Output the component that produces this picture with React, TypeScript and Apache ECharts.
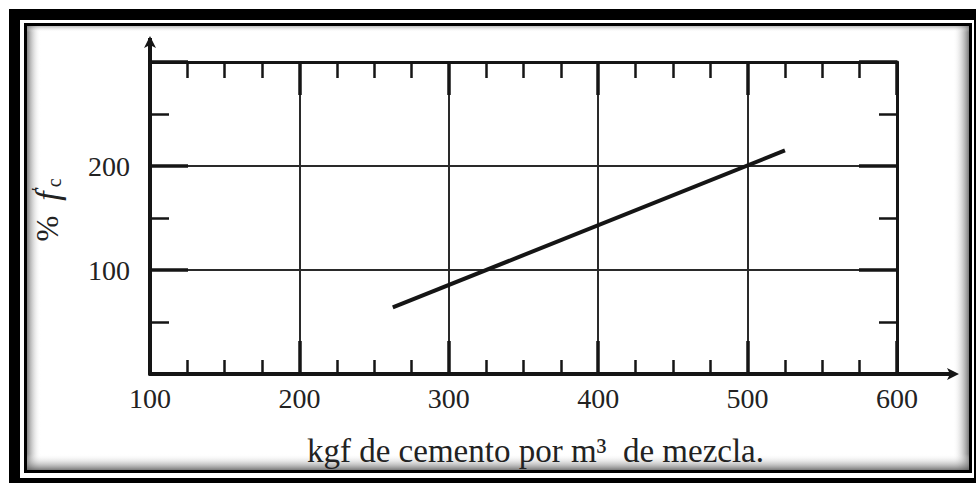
import React, { useEffect, useRef } from "react";
import * as echarts from "echarts";

const xTickValues = [100, 200, 300, 400, 500, 600];
const yTickValues = [100, 200];
const lineX = [262.5, 525];
const lineY = [64, 215];
const xAxisTitle = "kgf de cemento por m³  de mezcla.";

const FONT = "'Liberation Serif', 'DejaVu Serif', serif";
const INK = "#151515";

export default function App() {
  const ref = useRef<HTMLDivElement>(null);
  useEffect(() => {
    if (!ref.current) return;
    const chart = echarts.init(ref.current, undefined, { renderer: "svg" });
    const lineData = lineX.map((x, i) => [x, lineY[i]]);
    const gl = { left: 150, right: 79, top: 62, bottom: 109 };
    const W = 976;
    const H = 483;
    const axisRight = W - gl.right;
    const axisBottom = H - gl.bottom;

    const commonX = {
      type: "value" as const,
      min: 100,
      max: 600,
      interval: 100,
    };
    const commonY = {
      type: "value" as const,
      min: 0,
      max: 300,
      interval: 100,
    };

    chart.setOption({
      animation: false,
      backgroundColor: "#ffffff",
      grid: { ...gl, show: false },
      xAxis: [
        {
          ...commonX,
          position: "bottom",
          axisLine: {
            show: true,
            onZero: false,
            lineStyle: { color: INK, width: 4 },
            symbol: ["none", "arrow"],
            symbolSize: [9, 12],
            symbolOffset: [0, 62],
          },
          axisTick: { show: true, inside: true, length: 33, lineStyle: { color: INK, width: 3.5 } },
          minorTick: { show: true, splitNumber: 4, length: 14, lineStyle: { color: INK, width: 2.5 } },
          splitLine: { show: true, lineStyle: { color: "#2a2a2a", width: 2 } },
          axisLabel: {
            show: true,
            margin: 10,
            fontFamily: FONT,
            fontSize: 28,
            color: "#222",
            formatter: (v: number) => (xTickValues.includes(v) ? String(v) : ""),
          },
          name: xAxisTitle,
          nameLocation: "middle",
          nameGap: 60,
          nameTextStyle: {
            fontFamily: FONT,
            fontSize: 33,
            color: "#222",
            padding: [0, 0, 0, 24],
          },
        },
        {
          ...commonX,
          position: "top",
          axisLine: { show: true, onZero: false, lineStyle: { color: INK, width: 3 } },
          axisTick: { show: true, inside: true, length: 33, lineStyle: { color: INK, width: 3.5 } },
          minorTick: { show: true, splitNumber: 4, length: 16, lineStyle: { color: INK, width: 2.5 } },
          splitLine: { show: false },
          axisLabel: { show: false },
        },
      ],
      yAxis: [
        {
          ...commonY,
          position: "left",
          axisLine: {
            show: true,
            onZero: false,
            lineStyle: { color: INK, width: 4 },
            symbol: ["none", "arrow"],
            symbolSize: [9, 12],
            symbolOffset: [0, 26],
          },
          axisTick: { show: true, inside: true, length: 38, lineStyle: { color: INK, width: 3.5 } },
          minorTick: { show: true, splitNumber: 2, length: 19, lineStyle: { color: INK, width: 2.5 } },
          splitLine: { show: true, lineStyle: { color: "#2a2a2a", width: 2 } },
          axisLabel: {
            show: true,
            margin: 20,
            fontFamily: FONT,
            fontSize: 28,
            color: "#222",
            formatter: (v: number) => (yTickValues.includes(v) ? String(v) : ""),
          },
          name: "{p|%}  {f|f}{q|′}{c|c}",
          nameLocation: "middle",
          nameRotate: 90,
          nameGap: 86,
          nameTextStyle: {
            fontFamily: FONT,
            fontSize: 30,
            color: "#222",
            padding: [0, 0, 0, 16],
            rich: {
              p: { fontFamily: FONT, fontSize: 31, color: "#222" },
              f: { fontFamily: FONT, fontSize: 34, fontStyle: "italic", color: "#222" },
              q: { fontFamily: FONT, fontSize: 18, color: "#222", verticalAlign: "top" },
              c: { fontFamily: FONT, fontSize: 20, color: "#222", verticalAlign: "bottom" },
            },
          },
        },
        {
          ...commonY,
          position: "right",
          axisLine: { show: true, onZero: false, lineStyle: { color: INK, width: 3 } },
          axisTick: { show: true, inside: true, length: 38, lineStyle: { color: INK, width: 3.5 } },
          minorTick: { show: true, splitNumber: 2, length: 18, lineStyle: { color: INK, width: 2.5 } },
          splitLine: { show: false },
          axisLabel: { show: false },
        },
      ],
      series: [
        {
          type: "line",
          xAxisIndex: 0,
          yAxisIndex: 0,
          data: lineData,
          showSymbol: false,
          symbol: "none",
          lineStyle: { color: INK, width: 4 },
        },
      ],
      graphic: [
        {
          type: "line",
          silent: true,
          shape: { x1: axisRight, y1: axisBottom, x2: axisRight + 58, y2: axisBottom },
          style: { stroke: INK, lineWidth: 4 },
        },
        {
          type: "line",
          silent: true,
          shape: { x1: gl.left, y1: gl.top, x2: gl.left, y2: gl.top - 24 },
          style: { stroke: INK, lineWidth: 4 },
        },
        {
          type: "rect",
          silent: true,
          shape: { x: 27, y: 26, width: 14, height: 444 },
          style: {
            fill: new echarts.graphic.LinearGradient(0, 0, 1, 0, [
              { offset: 0, color: "rgba(90,90,90,0.75)" },
              { offset: 1, color: "rgba(255,255,255,0)" },
            ]),
          },
        },
        {
          type: "rect",
          silent: true,
          shape: { x: 953, y: 26, width: 16, height: 444 },
          style: {
            fill: new echarts.graphic.LinearGradient(0, 0, 1, 0, [
              { offset: 0, color: "rgba(255,255,255,0)" },
              { offset: 1, color: "rgba(90,90,90,0.8)" },
            ]),
          },
        },
        {
          type: "rect",
          silent: true,
          shape: { x: 27, y: 454, width: 942, height: 16 },
          style: {
            fill: new echarts.graphic.LinearGradient(0, 0, 0, 1, [
              { offset: 0, color: "rgba(255,255,255,0)" },
              { offset: 1, color: "rgba(90,90,90,0.8)" },
            ]),
          },
        },
        {
          type: "rect",
          silent: true,
          shape: { x: 27, y: 26, width: 942, height: 6 },
          style: {
            fill: new echarts.graphic.LinearGradient(0, 0, 0, 1, [
              { offset: 0, color: "rgba(120,120,120,0.5)" },
              { offset: 1, color: "rgba(255,255,255,0)" },
            ]),
          },
        },
        {
          type: "rect",
          silent: true,
          shape: { x: 25.5, y: 24.5, width: 945, height: 447 },
          style: { fill: "none", stroke: "#000", lineWidth: 3 },
        },
        { type: "rect", silent: true, shape: { x: 9, y: 9, width: 967, height: 11 }, style: { fill: "#000" } },
        { type: "rect", silent: true, shape: { x: 9, y: 9, width: 11, height: 474 }, style: { fill: "#000" } },
        { type: "rect", silent: true, shape: { x: 974, y: 9, width: 2, height: 474 }, style: { fill: "#000" } },
        { type: "rect", silent: true, shape: { x: 9, y: 478, width: 967, height: 5 }, style: { fill: "#000" } },
      ],
    });
    return () => chart.dispose();
  }, []);
  return (
    <div
      ref={ref}
      style={{ position: "fixed", left: 0, top: 0, width: 976, height: 483, background: "#fff" }}
    />
  );
}
